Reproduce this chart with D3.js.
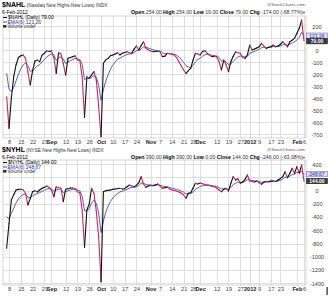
<!DOCTYPE html>
<html>
<head>
<meta charset="utf-8">
<script src="https://cdn.jsdelivr.net/npm/d3@7"></script>
<style>
  body { margin: 0; background: #fff; }
  svg { display: block; font-family: Arial, "Liberation Sans", sans-serif; }
  .axis text { fill: #444; font-size: 5.6px; }
  .axis line { stroke: #dedede; shape-rendering: crispEdges; }
  .axis .domain { display: none; }
</style>
</head>
<body>
<svg width="329" height="300"></svg>
<script>
// trading day index 0 = 5-Aug-2011 ... 126 = 6-Feb-2012
var dateTicks = [[1,"8"],[6,"15"],[11,"22"],[16,"29"],[19,"Sep"],[25,"12"],[30,"19"],[35,"26"],
  [40,"Oct"],[45,"10"],[50,"17"],[55,"24"],[61,"Nov"],[65,"7"],[70,"14"],[75,"21"],[79,"28"],
  [82,"Dec"],[89,"12"],[94,"19"],[99,"27"],[103,"2012"],[107,"9"],[112,"17"],[116,"23"],
  [123,"Feb"],[126,"6"]];
var boldTicks = ["Sep","Oct","Nov","Dec","2012","Feb"];

// $NAHL daily
var nahl = [-387,-650,-400,-220,-120,-60,-45,-39,-67,-180,-289,-170,-90,-81,-95,-40,-25,-3,-10,-5,
  -60,-192,-20,-30,-110,-206,-67,-60,-53,-45,-81,-85,-220,-558,-220,-233,-205,-178,-250,-470,
  -720,-108,-80,-67,-45,-39,-30,-20,-39,-25,-18,-12,-20,-25,10,36,2,40,72,17,
  5,-5,-12,-10,-8,-12,-53,-50,-25,-28,-35,-39,-60,-95,-130,-164,-192,-170,-150,-80,
  -25,-30,-39,-10,-3,-25,-40,-53,-50,-55,-95,-164,-81,-120,-178,-95,-50,-12,-20,-25,
  -60,-67,-39,44,2,10,20,30,58,35,16,25,30,44,30,36,50,72,50,30,
  72,85,100,142,183,253,79];
// $NAHL EMA(6)
var nahlEma = [-192,-323,-345,-309,-255,-199,-155,-122,-106,-127,-173,-172,-149,-130,-120,-97,-76,-55,-42,-31,
  -39,-83,-65,-55,-71,-110,-98,-87,-77,-68,-72,-76,-117,-243,-236,-235,-226,-212,-223,-294,
  -416,-328,-257,-203,-158,-124,-97,-75,-65,-54,-44,-35,-31,-29,-18,-3,-2,10,28,25,
  19,12,5,1,-2,-5,-19,-28,-27,-27,-29,-32,-40,-56,-77,-102,-128,-140,-143,-125,
  -96,-77,-66,-50,-37,-34,-36,-41,-44,-47,-61,-90,-87,-96,-119,-112,-94,-71,-56,-47,
  -51,-56,-51,-24,-17,-9,-1,8,22,26,23,24,26,31,31,32,37,47,48,43,
  51,61,72,85,108,150,121];

// $NYHL daily
var nyhl = [-870,-500,-141,-60,10,20,21,15,-40,-216,-120,-15,0,-20,10,36,50,71,50,10,
  -90,60,45,40,-166,21,30,40,40,30,-15,-30,-292,-857,-292,-200,36,-40,-318,-700,
  -1377,-15,0,5,10,20,25,30,36,25,30,60,86,70,60,80,120,212,101,51,
  70,80,75,85,101,70,36,45,50,30,10,5,-10,-20,-40,-65,-115,-40,-30,40,
  111,100,115,105,95,86,80,64,60,40,10,-15,20,36,-5,112,212,162,180,112,
  130,170,237,147,140,130,145,120,97,130,140,135,147,150,140,162,185,212,287,197,
  263,338,263,363,263,390,144];
// $NYHL EMA(6)
var nyhlEma = [-393,-424,-343,-262,-184,-126,-84,-56,-51,-98,-104,-79,-56,-46,-30,-11,6,25,32,26,
  -7,12,21,26,-29,-15,-2,10,19,22,11,-1,-84,-305,-301,-272,-184,-143,-193,-338,
  -635,-458,-327,-232,-163,-111,-72,-43,-20,-7,4,20,39,48,51,59,76,115,111,94,
  87,85,82,83,88,83,70,63,59,51,39,29,18,7,-6,-23,-49,-46,-41,-18,
  19,42,63,75,81,82,81,76,71,62,47,29,26,29,19,46,93,113,132,126,
  127,139,167,161,155,148,147,139,127,128,131,132,136,140,140,146,157,173,206,203,
  220,245,250,278,273,290,249];

var nahlTicks = [200,100,0,-100,-200,-300,-400,-500,-600,-700];
var nyhlTicks = [400,200,0,-200,-400,-600,-800,-1000,-1200,-1400];

var panels = [
  {sym:"$NAHL", name:"(Nasdaq New Highs-New Lows) INDX",
   quote:[["Open","254.00"],["High","254.00"],["Low","19.00"],["Close","79.00"],["Chg","-174.00 (-68.77%)"]],
   daily:nahl, ema:nahlEma, dailyLbl:"79.00", emaLbl:"121.26",
   ticks:nahlTicks, hide:[100], domain:[-731,286], top:16, bottom:138, head:0},
  {sym:"$NYHL", name:"(NYSE New Highs-New Lows) INDX",
   quote:[["Open","390.00"],["High","390.00"],["Low","0.00"],["Close","144.00"],["Chg","-246.00 (-63.08%)"]],
   daily:nyhl, ema:nyhlEma, dailyLbl:"144.00", emaLbl:"248.67",
   ticks:nyhlTicks, hide:[200], domain:[-1427,464], top:160, bottom:285, head:145}
];

var svg = d3.select("svg");
var left = 3, right = 306;
var x = d3.scaleLinear().domain([0,126]).range([6.64,304]);
var red = "#c8285a", blue = "#4a4ab4";

panels.forEach(function(p){
  var y = d3.scaleLinear().domain(p.domain).range([p.bottom, p.top]);
  var g = svg.append("g");

  // grid + date labels
  g.append("g").attr("class","axis x")
    .attr("transform","translate(0," + p.bottom + ")")
    .call(d3.axisBottom(x).tickValues(dateTicks.map(function(d){ return d[0]; }))
      .tickSize(-(p.bottom - p.top)).tickPadding(2.5)
      .tickFormat(function(v){ return dateTicks.find(function(d){ return d[0] == v; })[1]; }))
    .selectAll("text")
      .style("font-weight", function(v){
        var l = dateTicks.find(function(d){ return d[0] == v; })[1];
        return boldTicks.includes(l) ? "bold" : "normal"; })
      .style("fill", function(v){
        var l = dateTicks.find(function(d){ return d[0] == v; })[1];
        return boldTicks.includes(l) ? "#222" : "#444"; });

  g.append("g").attr("class","axis y")
    .attr("transform","translate(" + right + ",0)")
    .call(d3.axisRight(y).tickValues(p.ticks).tickSize(-(right - left)).tickPadding(11)
      .tickFormat(function(v){ return p.hide.includes(v) ? "" : v; }))
    .selectAll("text").attr("text-anchor","middle");

  g.append("rect").attr("x", left).attr("y", p.top)
    .attr("width", right - left).attr("height", p.bottom - p.top)
    .attr("fill","none").attr("stroke","#b8b8b8").attr("stroke-width",0.6);

  // EMA line
  g.append("path").datum(p.ema)
    .attr("fill","none").attr("stroke", blue).attr("stroke-width",0.9)
    .attr("d", d3.line().x(function(d,i){ return x(i); }).y(function(d){ return y(d); }));

  // daily line, black going up, red going down
  var segs = p.daily.slice(1).map(function(v,i){ return [i, p.daily[i], v]; });
  g.selectAll(".seg").data(segs).enter().append("line")
    .attr("x1", function(d){ return x(d[0]); })
    .attr("y1", function(d){ return y(d[1]); })
    .attr("x2", function(d){ return x(d[0] + 1); })
    .attr("y2", function(d){ return y(d[2]); })
    .attr("stroke", function(d){ return d[2] >= d[1] ? "#111" : red; })
    .attr("stroke-width",1.1).attr("stroke-linecap","round");

  // header
  var h = p.head;
  var t = g.append("text").attr("x",2).attr("y",h + 6.5);
  t.append("tspan").text(p.sym).attr("font-size","7px").attr("font-weight","bold");
  t.append("tspan").text(" " + p.name).attr("font-size","4.8px").attr("fill","#333");
  g.append("text").attr("x",2).attr("y",h + 13.5).attr("font-size","5px").text("6-Feb-2012");
  g.append("text").attr("x",305).attr("y",h + 5.5).attr("font-size","4.4px")
    .attr("text-anchor","end").attr("fill","#555").text("@StockCharts.com");
  var q = g.append("text").attr("x",303).attr("y",h + 13.5).attr("font-size","5.2px")
    .attr("text-anchor","end");
  p.quote.forEach(function(d){
    q.append("tspan").text(d[0] + " ").attr("font-weight","bold");
    q.append("tspan").text(d[1] + " ").attr("fill","#333");
  });
  g.append("text").attr("x",306).attr("y",h + 13.5).attr("font-size","4px")
    .attr("text-anchor","end").attr("fill", red).text("\u25BC");

  // legend
  var lg = g.append("g").attr("font-size","5px");
  lg.append("line").attr("x1",3).attr("x2",7).attr("y1",h + 17.5).attr("y2",h + 17.5)
    .attr("stroke","#111").attr("stroke-width",1);
  lg.append("text").attr("x",8).attr("y",h + 19.3).text(p.sym + " (Daily) " + p.dailyLbl);
  lg.append("line").attr("x1",3).attr("x2",7).attr("y1",h + 22).attr("y2",h + 22)
    .attr("stroke",blue).attr("stroke-width",1);
  lg.append("text").attr("x",7.5).attr("y",h + 23.8).attr("fill","#3030a0").text("EMA(6) " + p.emaLbl);
  lg.append("rect").attr("x",3).attr("y",h + 25).attr("width",3.5).attr("height",2.6).attr("fill","#333");
  lg.append("text").attr("x",7.5).attr("y",h + 27.8).attr("font-size","4.6px").attr("fill","#333").text("Volume undef");

  // last value boxes
  var ey = y(p.ema[126]), dy = y(p.daily[126]);
  if (dy - ey < 5.5) dy = ey + 5.5;
  g.append("rect").attr("x",306.5).attr("y",ey - 2.8).attr("width",21).attr("height",5.4)
    .attr("fill","#dcdcf2").attr("stroke","#5a5ab4").attr("stroke-width",0.5);
  g.append("text").attr("x",317).attr("y",ey + 1.8).attr("text-anchor","middle")
    .attr("font-size","5px").attr("fill","#3030a0").text(p.emaLbl);
  g.append("rect").attr("x",306.5).attr("y",dy - 2.8).attr("width",21).attr("height",5.4)
    .attr("fill","#3a3a3a").attr("stroke","#111").attr("stroke-width",0.5);
  g.append("text").attr("x",317).attr("y",dy + 1.8).attr("text-anchor","middle")
    .attr("font-size","5px").attr("font-weight","bold").attr("fill","#fff").text(p.dailyLbl);
});

svg.append("rect").attr("x",326.5).attr("y",287).attr("width",1.2).attr("height",8).attr("fill","#222");
</script>
</body>
</html>
